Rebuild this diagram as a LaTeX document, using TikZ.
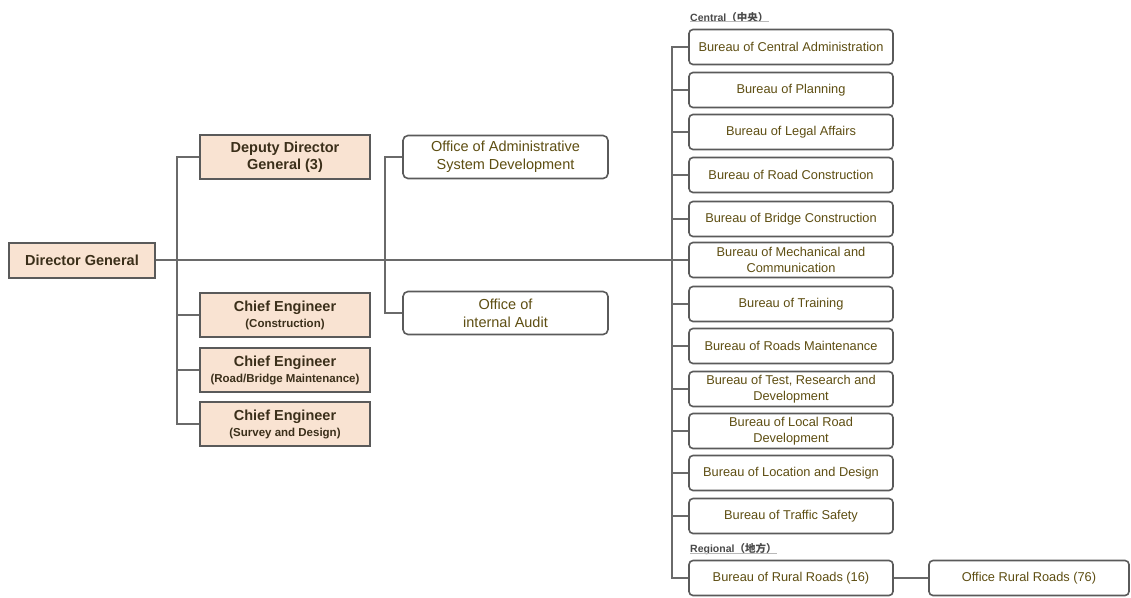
\documentclass[tikz,border=0pt]{standalone}
\usepackage{fontspec}
\setmainfont{Liberation Sans}
\newfontfamily\cjkfont{Noto Sans CJK SC}
\newcommand\subfnt{\bfseries\fontsize{11.5}{13}\selectfont}
\definecolor{linegray}{HTML}{6A6A6A}
\definecolor{boxgray}{HTML}{5A5A5A}
\definecolor{peach}{HTML}{F9E3D2}
\definecolor{headtext}{HTML}{3B2F1A}
\definecolor{burtext}{HTML}{5E4E12}
\definecolor{labeltext}{HTML}{4A4A4A}
\begin{document}
\begin{tikzpicture}[x=1pt,y=-1pt,
  conn/.style={draw=linegray, line width=1.8pt},
  headbox/.style={draw=boxgray, line width=2pt, fill=peach, minimum width=170pt,
    minimum height=44pt, align=center, inner sep=0pt, text=headtext,
    font=\bfseries\fontsize{14.5}{17}\selectfont},
  officebox/.style={draw=boxgray, line width=1.6pt, fill=white, rounded corners=5pt,
    minimum width=205pt, minimum height=43pt, align=center, inner sep=0pt,
    text=burtext, font=\fontsize{14.5}{18}\selectfont},
  burbox/.style={draw=boxgray, line width=1.6pt, fill=white, rounded corners=4pt,
    minimum width=204pt, minimum height=35pt, align=center, inner sep=0pt,
    text=burtext, font=\fontsize{12.8}{16}\selectfont},
  grouplabel/.style={anchor=south west, inner sep=0pt, text=labeltext,
    font=\bfseries\fontsize{10.5}{12}\selectfont}
]
\useasboundingbox (0,0) rectangle (1131,597);

% top management
\node[headbox, minimum width=146pt, minimum height=35pt] (dg) at (82,260) {Director General};
\node[headbox] (ddg) at (285,157) {Deputy Director\\General (3)};
\node[headbox] (ce1) at (285,315) {Chief Engineer\\[-1pt]{\subfnt(Construction)}};
\node[headbox] (ce2) at (285,370) {Chief Engineer\\[-1pt]{\subfnt(Road/Bridge Maintenance)}};
\node[headbox] (ce3) at (285,424) {Chief Engineer\\[-1pt]{\subfnt(Survey and Design)}};

% offices
\node[officebox] (o1) at (505.5,157) {Office of Administrative\\System Development};
\node[officebox] (o2) at (505.5,313) {Office of\\internal Audit};

% central bureaus
\node[burbox] (b1)  at (791,47)    {Bureau of Central Administration};
\node[burbox] (b2)  at (791,90)    {Bureau of Planning};
\node[burbox] (b3)  at (791,132)   {Bureau of Legal Affairs};
\node[burbox] (b4)  at (791,175)   {Bureau of Road Construction};
\node[burbox] (b5)  at (791,219)   {Bureau of Bridge Construction};
\node[burbox] (b6)  at (791,260)   {Bureau of Mechanical and\\Communication};
\node[burbox] (b7)  at (791,304)   {Bureau of Training};
\node[burbox] (b8)  at (791,346)   {Bureau of Roads Maintenance};
\node[burbox] (b9)  at (791,389)   {Bureau of Test, Research and\\Development};
\node[burbox] (b10) at (791,431)   {Bureau of Local Road\\Development};
\node[burbox] (b11) at (791,473)   {Bureau of Location and Design};
\node[burbox] (b12) at (791,516)   {Bureau of Traffic Safety};

% regional
\node[burbox] (b13) at (791,578)   {Bureau of Rural Roads (16)};
\node[burbox, minimum width=200pt] (orr) at (1029,578) {Office Rural Roads (76)};

% group headings with their underlines
\node[grouplabel] (lc) at (690,22.5)  {Central{\cjkfont（中央）}};
\node[grouplabel] (lr) at (690,554.5) {Regional{\cjkfont（地方）}};
\draw[gray!55, line width=0.6pt] ([yshift=1.5pt]lc.south west) -- ([yshift=1.5pt]lc.south east);
\draw[gray!55, line width=0.6pt] ([yshift=1.5pt]lr.south west) -- ([yshift=1.5pt]lr.south east);

% spine positions
\coordinate (lsp) at (177,260);
\coordinate (osp) at (385,260);
\coordinate (bsp) at (672,260);

% connectors
\draw[conn] (dg.east) -- (b6.west);
\draw[conn] (ddg.west) -| (lsp) |- (ce3.west);
\draw[conn] (ce1.west) -- (ce1.west -| lsp);
\draw[conn] (ce2.west) -- (ce2.west -| lsp);
\draw[conn] (o1.west) -| (osp) |- (o2.west);
\draw[conn] (b1.west) -| (bsp) |- (b13.west);
\foreach \b in {b2,b3,b4,b5,b7,b8,b9,b10,b11,b12}
  \draw[conn] (\b.west) -- (\b.west -| bsp);
\draw[conn] (b13.east) -- (orr.west);
\end{tikzpicture}
\end{document}
